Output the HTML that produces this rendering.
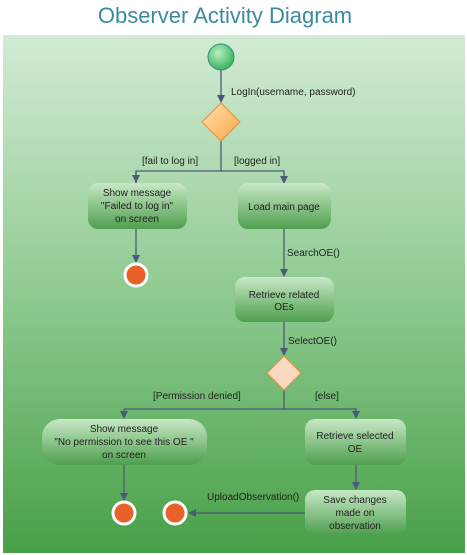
<!DOCTYPE html>
<html><head><meta charset="utf-8"><style>
body{margin:0;width:467px;height:555px;background:#fff;overflow:hidden}
svg{display:block;font-family:"Liberation Sans",sans-serif}
</style></head><body>
<svg width="467" height="555" viewBox="0 0 467 555">
<defs>
<linearGradient id="bg" x1="0" y1="0" x2="0" y2="1"><stop offset="0" stop-color="#d2ebd5"/><stop offset="0.5" stop-color="#8fca90"/><stop offset="1" stop-color="#48a048"/></linearGradient>
<linearGradient id="box" x1="0" y1="0" x2="0" y2="1"><stop offset="0" stop-color="#c8e8c6"/><stop offset="1" stop-color="#4e9f4e"/></linearGradient>
<radialGradient id="st" cx="0.4" cy="0.35" r="0.7"><stop offset="0" stop-color="#b8f0c0"/><stop offset="1" stop-color="#2fae55"/></radialGradient>
<linearGradient id="dia" x1="0" y1="0" x2="1" y2="1"><stop offset="0" stop-color="#ffe0a8"/><stop offset="1" stop-color="#f9a94a"/></linearGradient>
<marker id="ar" markerWidth="8" markerHeight="8" refX="7" refY="4" orient="auto" markerUnits="userSpaceOnUse"><path d="M0,0 L8,4 L0,8 Z" fill="#4a5a7a"/></marker>
</defs>
<text x="225" y="23" text-anchor="middle" font-size="22" fill="#3a8aa0">Observer Activity Diagram</text>
<rect x="3" y="35" width="462" height="518" fill="url(#bg)"/>
<g stroke="#4a5a7a" stroke-width="1.3" fill="none">
<line x1="221" y1="70" x2="221" y2="102" marker-end="url(#ar)"/>
<polyline points="221,141 221,171"/>
<polyline points="136,183 136,171 284,171 284,183" marker-end="url(#ar)"/>
<line x1="136" y1="171" x2="136" y2="182" marker-end="url(#ar)"/>
<line x1="136" y1="229" x2="136" y2="262" marker-end="url(#ar)"/>
<line x1="284" y1="229" x2="284" y2="276" marker-end="url(#ar)"/>
<line x1="284" y1="322" x2="284" y2="355" marker-end="url(#ar)"/>
<polyline points="284,390 284,409"/>
<polyline points="124,409 356,409 356,418" marker-end="url(#ar)"/>
<line x1="124" y1="409" x2="124" y2="418" marker-end="url(#ar)"/>
<line x1="124" y1="465" x2="124" y2="500" marker-end="url(#ar)"/>
<line x1="356" y1="465" x2="356" y2="489" marker-end="url(#ar)"/>
<line x1="305" y1="513" x2="189" y2="513" marker-end="url(#ar)"/>
</g>
<circle cx="221" cy="57" r="13" fill="url(#st)" stroke="#3a8a8a" stroke-width="1"/>
<polygon points="221,103 240,122 221,141 202,122" fill="url(#dia)" stroke="#e09040"/>
<polygon points="284,356 301,373 284,390 267,373" fill="#fbd9c0" stroke="#e09040"/>
<g fill="url(#box)">
<rect x="88" y="183" width="99" height="46" rx="10"/>
<rect x="238" y="183" width="93" height="46" rx="10"/>
<rect x="235" y="277" width="99" height="45" rx="10"/>
<rect x="42" y="419" width="165" height="46" rx="18"/>
<rect x="305" y="419" width="101" height="46" rx="10"/>
<rect x="305" y="490" width="101" height="45" rx="10"/>
</g>
<g fill="#e8602a" stroke="#fff" stroke-width="3">
<circle cx="136" cy="275" r="11"/>
<circle cx="124" cy="513" r="11"/>
<circle cx="175" cy="513" r="11"/>
</g>
<g font-size="10" fill="#222">
<text x="231" y="95">LogIn(username, password)</text>
<text x="142" y="164">[fail to log in]</text>
<text x="234" y="164">[logged in]</text>
<text x="287" y="256">SearchOE()</text>
<text x="288" y="344">SelectOE()</text>
<text x="153" y="399">[Permission denied]</text>
<text x="315" y="399">[else]</text>
<text x="207" y="500">UploadObservation()</text>
<g text-anchor="middle">
<text x="137" y="196">Show message</text>
<text x="137" y="209">"Failed to log in"</text>
<text x="137" y="222">on screen</text>
<text x="284" y="210">Load main page</text>
<text x="284" y="298">Retrieve related</text>
<text x="284" y="310">OEs</text>
<text x="124" y="432">Show message</text>
<text x="124" y="445">"No permission to see this OE "</text>
<text x="124" y="458">on screen</text>
<text x="355" y="439">Retrieve selected</text>
<text x="355" y="452">OE</text>
<text x="355" y="503">Save changes</text>
<text x="355" y="516">made on</text>
<text x="355" y="529">observation</text>
</g></g>
</svg>
</body></html>
